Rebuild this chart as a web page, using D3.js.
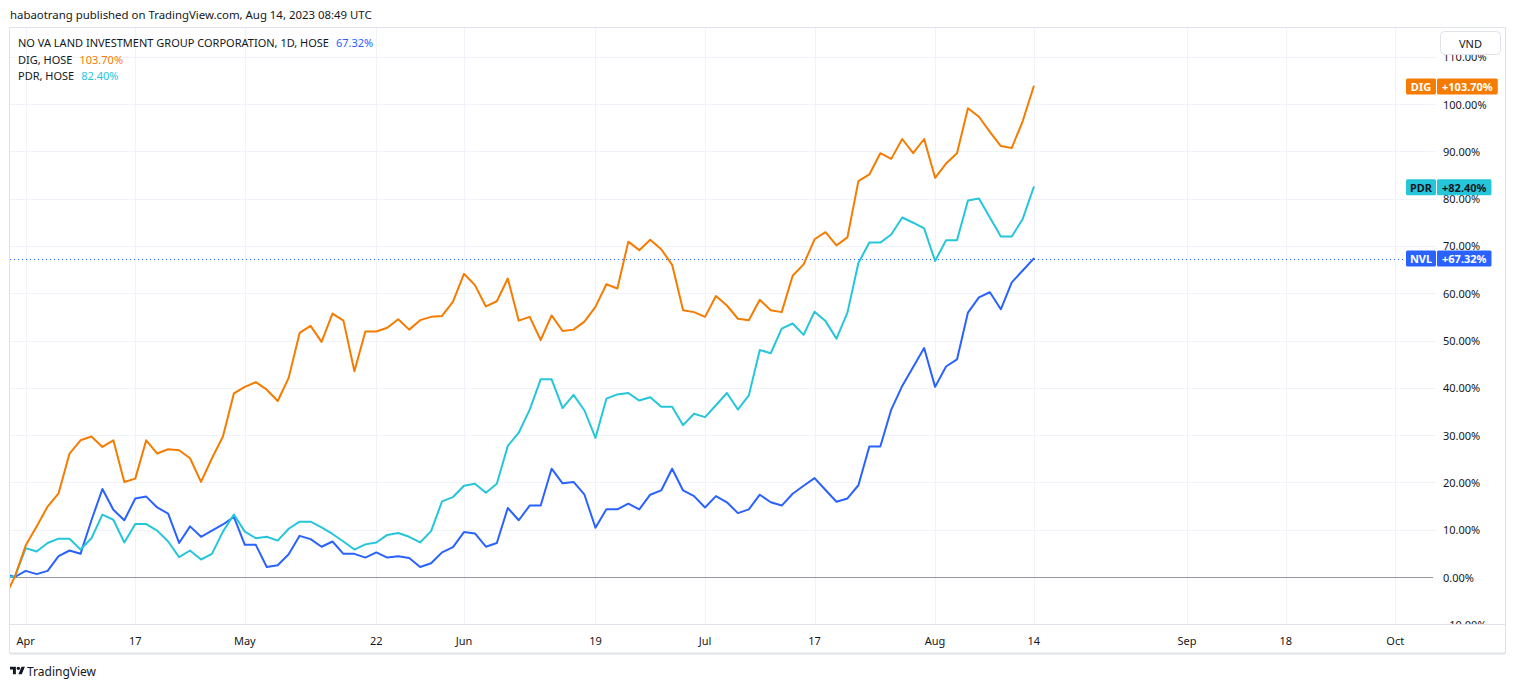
<!DOCTYPE html>
<html><head><meta charset="utf-8">
<script src="https://cdn.jsdelivr.net/npm/d3@7"></script>
<style>
body{margin:0;background:#fff;}
svg{display:block;font-family:"Noto Sans",sans-serif;}
</style>
</head><body>
<svg id="c" width="1515" height="689"></svg>
<script>
// ---------------- DATA ----------------
const dates = ["2023-03-30","2023-03-31",
"2023-04-03","2023-04-04","2023-04-05","2023-04-06","2023-04-07",
"2023-04-10","2023-04-11","2023-04-12","2023-04-13","2023-04-14",
"2023-04-17","2023-04-18","2023-04-19","2023-04-20","2023-04-21",
"2023-04-24","2023-04-25","2023-04-26","2023-04-27","2023-04-28",
"2023-05-04","2023-05-05",
"2023-05-08","2023-05-09","2023-05-10","2023-05-11","2023-05-12",
"2023-05-15","2023-05-16","2023-05-17","2023-05-18","2023-05-19",
"2023-05-22","2023-05-23","2023-05-24","2023-05-25","2023-05-26",
"2023-05-29","2023-05-30","2023-05-31","2023-06-01","2023-06-02",
"2023-06-05","2023-06-06","2023-06-07","2023-06-08","2023-06-09",
"2023-06-12","2023-06-13","2023-06-14","2023-06-15","2023-06-16",
"2023-06-19","2023-06-20","2023-06-21","2023-06-22","2023-06-23",
"2023-06-26","2023-06-27","2023-06-28","2023-06-29","2023-06-30",
"2023-07-03","2023-07-04","2023-07-05","2023-07-06","2023-07-07",
"2023-07-10","2023-07-11","2023-07-12","2023-07-13","2023-07-14",
"2023-07-17","2023-07-18","2023-07-19","2023-07-20","2023-07-21",
"2023-07-24","2023-07-25","2023-07-26","2023-07-27","2023-07-28",
"2023-07-31","2023-08-01","2023-08-02","2023-08-03","2023-08-04",
"2023-08-07","2023-08-08","2023-08-09","2023-08-10","2023-08-11",
"2023-08-14"];

// % change vs. base bar (Mar 31)
const nvlValues = [0.7,0,1.3,0.6,1.3,4.4,5.6,4.9,12.0,18.6,14.2,12.0,16.6,17.0,14.7,13.4,7.2,10.7,8.5,9.8,
11.1,12.7,6.8,6.8,2.1,2.5,4.8,8.7,8.0,6.4,7.5,4.9,4.9,4.1,5.2,4.1,4.4,4.0,2.1,2.9,
5.2,6.3,9.5,9.2,6.4,7.2,14.6,12.0,15.1,15.1,22.9,19.8,20.1,17.4,10.4,14.3,14.3,15.5,14.3,17.4,
18.3,22.9,18.3,17.1,14.7,17.1,15.8,13.5,14.3,17.4,15.8,15.1,17.6,19.3,20.9,18.4,15.9,16.6,19.4,27.6,
27.6,35.4,40.4,44.4,48.4,40.2,44.5,46.0,55.9,59.1,60.2,56.6,62.3,64.8,67.32];

const digValues = [-4.6,0,6.7,10.7,14.9,17.7,26.1,28.9,29.7,27.5,28.9,20.1,20.8,28.9,26.1,27.0,26.8,25.1,20.1,25.1,
29.7,38.8,40.2,41.2,39.6,37.2,42.1,51.6,53.1,49.7,55.7,54.2,43.5,51.9,51.9,52.7,54.5,52.3,54.3,55.0,
55.2,58.2,64.1,61.7,57.2,58.3,63.1,54.2,55.0,50.1,55.3,52.0,52.3,54.0,57.1,61.9,61.0,70.9,69.1,71.3,
69.3,66.0,56.4,56.0,55.0,59.4,57.4,54.6,54.3,58.6,56.4,56.0,63.7,66.1,71.4,72.9,70.1,71.8,83.7,85.1,
89.6,88.4,92.6,89.6,92.6,84.4,87.4,89.6,99.1,97.3,94.1,91.1,90.7,96.4,103.70];

const pdrValues = [0.3,0,6.1,5.4,7.2,8.1,8.1,5.8,8.2,13.2,12.1,7.3,11.2,11.2,9.8,7.5,4.2,5.6,3.7,4.9,
9.6,13.2,9.6,8.2,8.5,7.7,10.2,11.7,11.7,10.5,9.1,7.5,5.8,6.9,7.3,8.9,9.3,8.5,7.3,9.7,
16.0,16.9,19.3,19.7,17.8,19.7,27.7,30.5,35.4,41.8,41.8,35.7,38.5,35.2,29.4,37.7,38.6,38.9,37.3,38.0,
36.0,36.0,32.1,34.5,33.8,36.3,38.9,35.4,38.4,48.0,47.3,52.5,53.6,51.2,56.1,54.1,50.4,55.9,66.4,70.7,
70.7,72.4,76.0,74.9,73.7,66.8,71.2,71.2,79.6,80.0,76.0,72.0,72.0,75.7,82.40];

const symbols = ["NVL","DIG","PDR"];
const legendNames = ["NO VA LAND INVESTMENT GROUP CORPORATION, 1D, HOSE","DIG, HOSE","PDR, HOSE"];

// time-axis ticks: label + bar index (future bars continue the trading-day count)
const tickLabels = ["Apr","17","May","22","Jun","19","Jul","17","Aug","14","Sep","18","Oct"];
const tickIndex  = [2,12,22,34,42,54,64,74,85,94,108,117,127];

const priceTicks = [-10,0,10,20,30,40,50,60,70,80,90,100,110];

const headerText = "habaotrang published on TradingView.com, Aug 14, 2023 08:49 UTC";
const currency = "VND";

// ---------------- STYLE ----------------
const colors = {NVL:"#2962FF", DIG:"#F57C00", PDR:"#26C6DA"};
const labelText = {NVL:"#ffffff", DIG:"#ffffff", PDR:"#131722"};
const textColor = "#131722";
const gridColor = "#f0f3fa";
const borderColor = "#e0e3eb";

const pane = {left:10, right:1436, top:28, bottom:624};

// ---------------- DRAW ----------------
const svg = d3.select("#c");
const seriesVals = {NVL:nvlValues, DIG:digValues, PDR:pdrValues};

const x = d3.scaleLinear().domain([0, dates.length-1]).range([3.8, 1033.7]);
const y = d3.scaleLinear().domain([0, 100]).range([577, 104]);

const defs = svg.append("defs");
defs.append("clipPath").attr("id","paneClip").append("rect")
  .attr("x",pane.left).attr("y",pane.top).attr("width",pane.right-pane.left).attr("height",pane.bottom-pane.top);
defs.append("clipPath").attr("id","axisClip").append("rect")
  .attr("x",pane.right).attr("y",pane.top).attr("width",1505-pane.right).attr("height",pane.bottom-pane.top);

// header
svg.append("text").attr("x",10).attr("y",14).attr("dominant-baseline","central")
  .attr("font-size",11.4).attr("fill",textColor).text(headerText);

// frame
svg.append("rect").attr("x",9.5).attr("y",27.5).attr("width",1496).attr("height",626)
  .attr("fill","none").attr("stroke",borderColor);
svg.append("line").attr("x1",10).attr("x2",1505).attr("y1",653.5).attr("y2",653.5)
  .attr("stroke",borderColor).attr("stroke-width",2);

const g = svg.append("g").attr("clip-path","url(#paneClip)");

// vertical grid
g.selectAll("line.vg").data(tickIndex).join("line").attr("class","vg")
  .attr("x1",d=>Math.round(x(d))+0.5).attr("x2",d=>Math.round(x(d))+0.5)
  .attr("y1",pane.top).attr("y2",pane.bottom).attr("stroke",gridColor);

// horizontal grid
g.selectAll("line.hg").data(priceTicks.filter(d=>d!==0)).join("line").attr("class","hg")
  .attr("x1",pane.left).attr("x2",pane.right)
  .attr("y1",d=>Math.round(y(d))+0.5).attr("y2",d=>Math.round(y(d))+0.5).attr("stroke",gridColor);

// zero baseline
g.append("line").attr("x1",pane.left).attr("x2",pane.right-3)
  .attr("y1",Math.round(y(0))+0.5).attr("y2",Math.round(y(0))+0.5).attr("stroke","#9598a1");

// pane / time-axis separator
svg.append("line").attr("x1",10).attr("x2",1505).attr("y1",pane.bottom+0.5).attr("y2",pane.bottom+0.5)
  .attr("stroke",borderColor);

// dotted line at main series last value
const nvlLast = nvlValues[nvlValues.length-1];
g.append("line").attr("x1",pane.left).attr("x2",1406)
  .attr("y1",Math.round(y(nvlLast))+0.5).attr("y2",Math.round(y(nvlLast))+0.5)
  .attr("stroke",colors.NVL).attr("stroke-dasharray","1,3");

// lines
const line = d3.line().x((d,i)=>x(i)).y(d=>y(d));
["NVL","PDR","DIG"].forEach(s=>{
  g.append("path").datum(seriesVals[s]).attr("d",line)
    .attr("fill","none").attr("stroke",colors[s]).attr("stroke-width",2)
    .attr("stroke-linejoin","round").attr("stroke-linecap","round");
});

// price axis labels (partly hidden behind the last-value labels, as in the original)
const lastVals = symbols.map(s=>seriesVals[s][seriesVals[s].length-1]);
const ag = svg.append("g").attr("clip-path","url(#axisClip)");
ag.selectAll("text.pt").data(priceTicks).join("text").attr("class","pt")
  .attr("x",1443).attr("y",d=>y(d)).attr("dominant-baseline","central")
  .attr("font-size",11).attr("fill",textColor)
  .text(d=>(d<0?"\u2212"+Math.abs(d).toFixed(2):d.toFixed(2))+"%");

// time axis labels
svg.selectAll("text.tt").data(tickIndex).join("text").attr("class","tt")
  .attr("x",d=>x(d)).attr("y",640).attr("text-anchor","middle").attr("dominant-baseline","central")
  .attr("font-size",11).attr("fill",textColor).text((d,i)=>tickLabels[i]);

// last-value labels
symbols.forEach(s=>{
  const v = seriesVals[s][seriesVals[s].length-1];
  const cy = y(v);
  const lg = svg.append("g");
  lg.append("rect").attr("x",1406).attr("y",cy-8).attr("width",30).attr("height",16).attr("rx",1.5)
    .attr("fill",colors[s]);
  lg.append("text").attr("x",1421).attr("y",cy).attr("text-anchor","middle").attr("dominant-baseline","central")
    .attr("font-size",11).attr("font-weight","bold").attr("fill",labelText[s]).text(s);
  const vr = lg.append("rect").attr("x",1437).attr("y",cy-8).attr("height",16).attr("rx",1.5).attr("fill",colors[s]);
  const t = lg.append("text").attr("x",1442).attr("y",cy).attr("dominant-baseline","central")
    .attr("font-size",11).attr("font-weight","bold").attr("fill",labelText[s]).text("+"+v.toFixed(2)+"%");
  vr.attr("width", t.node().getComputedTextLength()+10);
});

// currency button
svg.append("rect").attr("x",1440.5).attr("y",31.5).attr("width",60).attr("height",23).attr("rx",4)
  .attr("fill","#fff").attr("stroke",borderColor);
svg.append("text").attr("x",1470.5).attr("y",43).attr("text-anchor","middle").attr("dominant-baseline","central")
  .attr("font-size",11).attr("fill",textColor).text(currency);

// legend
symbols.forEach((s,i)=>{
  const v = seriesVals[s][seriesVals[s].length-1];
  const t = svg.append("text").attr("x",18).attr("y",42+i*16.7).attr("dominant-baseline","central")
    .attr("font-size",11).attr("fill",textColor);
  t.append("tspan").text(legendNames[i]);
  t.append("tspan").attr("dx",7).attr("fill",colors[s]).text(v.toFixed(2)+"%");
});

// footer logo
const logo = svg.append("g").attr("transform","translate(10,665) scale(0.42)");
logo.append("path").attr("d","M14 22H7V11H0V4h14v18zM28 22h-8l7.5-18h8L28 22z").attr("fill","#131722");
logo.append("circle").attr("cx",20).attr("cy",8).attr("r",4).attr("fill","#131722");
svg.append("text").attr("x",27).attr("y",671).attr("dominant-baseline","central")
  .attr("font-size",12).attr("fill",textColor).text("TradingView");
</script>
</body></html>
